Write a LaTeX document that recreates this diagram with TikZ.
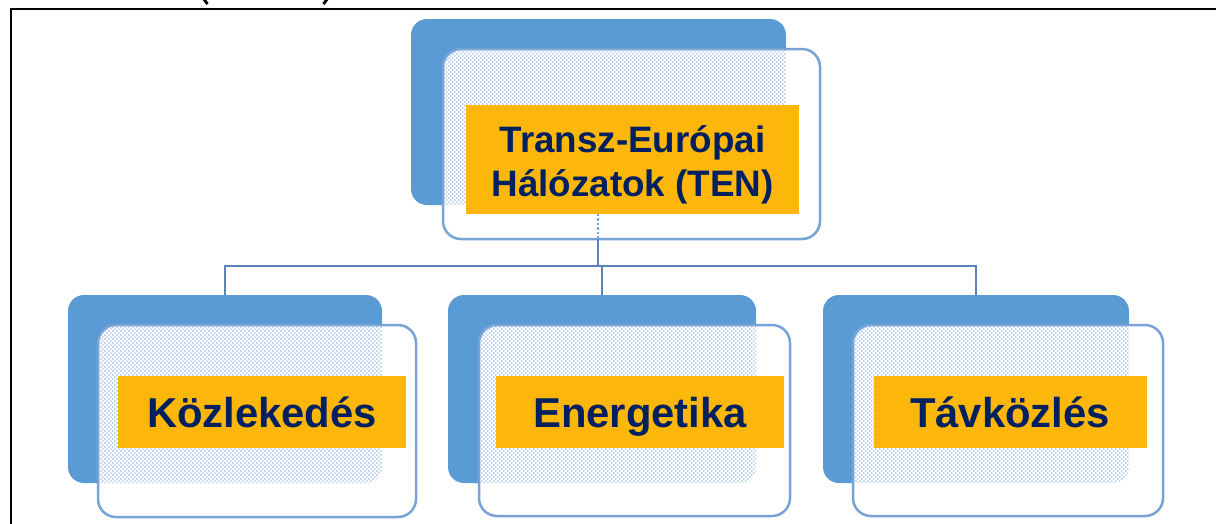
\documentclass[tikz,border=0pt]{standalone}
\usepackage{fontspec}
\setmainfont{Liberation Sans}
\usetikzlibrary{patterns.meta}
\definecolor{backblue}{RGB}{91,155,213}
\definecolor{frontline}{RGB}{120,163,214}
\definecolor{connblue}{RGB}{92,132,184}
\definecolor{dotblue}{RGB}{115,162,224}
\definecolor{tenorange}{RGB}{253,183,10}
\definecolor{tennavy}{RGB}{0,32,96}
\tikzdeclarepattern{
  name=tendots,
  type=uncolored,
  bounding box={(0pt,0pt) and (4.4pt,4.4pt)},
  tile size={(4.4pt,4.4pt)},
  code={
    \pgfpathcircle{\pgfpoint{1.1pt}{1.1pt}}{0.85pt}
    \pgfpathcircle{\pgfpoint{3.3pt}{3.3pt}}{0.85pt}
    \pgfusepath{fill}
  }
}
\tikzset{
  backbox/.style={draw=none, fill=backblue, rounded corners=16pt, inner sep=0pt, outer sep=0pt, anchor=north west},
  frontbox/.style={draw=none, fill=white, rounded corners=18pt, inner sep=0pt, outer sep=0pt, anchor=north west},
  frontborder/.style={draw=frontline, line width=2.5pt, rounded corners=18pt},
  dotfill/.style={pattern=tendots, pattern color=dotblue, rounded corners=16pt},
  orangebox/.style={draw=none, fill=tenorange, inner sep=0pt, outer sep=0pt, anchor=north west},
  lblbig/.style={font=\bfseries\fontsize{41.8pt}{48pt}\selectfont, text=tennavy, inner sep=0pt, anchor=base},
  lbltop/.style={font=\bfseries\fontsize{36.8pt}{44pt}\selectfont, text=tennavy, inner sep=0pt, anchor=base},
  conn/.style={draw=connblue, line width=2.4pt},
  conndot/.style={draw=dotblue, line width=2.4pt, dotted},
  glyphcut/.style={draw=black, line width=2.8pt},
}
% #1 name, #2-#5 back box (x1,y1,x2,y2), #6-#9 front box
\newcommand\tenbox[9]{%
  \node[backbox, minimum width={(#4-#2)*1pt}, minimum height={(#5-#3)*1pt}] (#1b) at (#2,#3) {};
  \node[frontbox, minimum width={(#8-#6)*1pt}, minimum height={(#9-#7)*1pt}] (#1) at (#6,#7) {};
  \begin{scope}
    \clip[rounded corners=18pt] (#1.north west) rectangle (#1.south east);
    \fill[dotfill] (#1b.north west) rectangle (#1b.south east);
  \end{scope}
  \draw[frontborder] (#1.north west) rectangle (#1.south east);
}
\begin{document}
\begin{tikzpicture}[x=1pt, y=-1pt]
\useasboundingbox (0,0) rectangle (1216,523);
\begin{scope}
  \clip (0,0) rectangle (1216,523);
  % cut-off glyph fragments at the very top edge
  \draw[glyphcut] (203,-2) .. controls (204.5,1.5) .. (207.5,4);
  \draw[glyphcut] (328,-2) .. controls (326.5,1.5) .. (323.5,4);
  % frame
  \draw[black, line width=2pt] (11,530) -- (11,9) -- (1220,9);
\end{scope}

% top box
\tenbox{tf}{411}{19}{786}{205}{443}{49}{820}{239}
\node[orangebox, minimum width=333pt, minimum height=109pt] (to) at (466,105) {};
\node[lbltop] (t1) at (632.5,152) {Transz-Európai};
\node[lbltop] (t2) at (632.5,196) {Hálózatok (TEN)};

% children
\tenbox{ka}{68}{295}{382}{483}{98}{325}{416}{517}
\node[orangebox, minimum width=288pt, minimum height=72pt] (koa) at (118,376) {};
\node[lblbig] (kta) at (262,427) {Közlekedés};

\tenbox{kb}{448}{295}{756}{483}{479}{325}{790}{516}
\node[orangebox, minimum width=288pt, minimum height=72pt] (kob) at (496,376) {};
\node[lblbig] (ktb) at (640,427) {Energetika};

\tenbox{kc}{823}{295}{1129}{483}{853}{325}{1163}{516}
\node[orangebox, minimum width=273pt, minimum height=72pt] (koc) at (874,376) {};
\node[lblbig] (ktc) at (1010,427) {Távközlés};

% connectors
\coordinate (j) at (598,266);
\draw[conndot] (to.south -| j) -- (tf.south -| j);
\draw[conn] (tf.south -| j) -- (j);
\draw[conn] (kab.north) -- (kab.north |- j) -- (kcb.north |- j) -- (kcb.north);
\draw[conn] (kbb.north |- j) -- (kbb.north);
\end{tikzpicture}
\end{document}
